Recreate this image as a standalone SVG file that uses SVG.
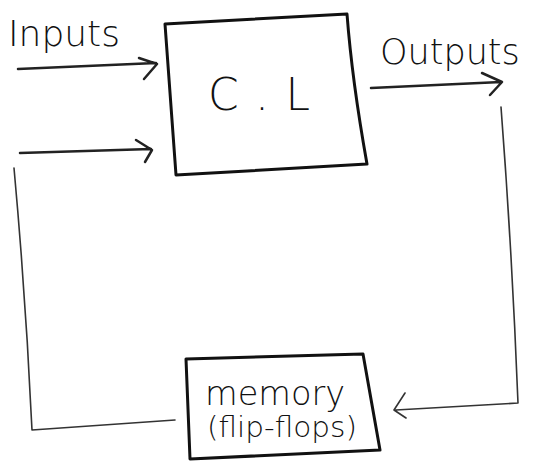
<svg xmlns="http://www.w3.org/2000/svg" width="545" height="463" viewBox="0 0 545 463">
<style>
.box{fill:none;stroke:#111;stroke-width:3;stroke-linejoin:round}
.ln{fill:none;stroke:#222;stroke-width:2.5;stroke-linecap:round;stroke-linejoin:round}
.thin{fill:none;stroke:#333;stroke-width:1.6;stroke-linecap:round;stroke-linejoin:round}
.t{font-family:"DejaVu Sans","Liberation Sans",sans-serif;font-weight:300;fill:#111}
</style>
<rect width="545" height="463" fill="#fff"/>
<g id="cl">
<path class="box" d="M165,24 L347,14 Q352,80 367,164 L176,175 Z"/>
<text class="t" x="208" y="110" font-size="44" textLength="102" lengthAdjust="spacing">C . L</text>
</g>
<g id="memory">
<path class="box" d="M186,359 L363,354 L380,450 L190,459 Z"/>
<text class="t" x="205" y="405" font-size="33" textLength="140" lengthAdjust="spacingAndGlyphs">memory</text>
<text class="t" x="207" y="437" font-size="29" textLength="150" lengthAdjust="spacingAndGlyphs">(flip-flops)</text>
</g>
<g id="labels">
<text class="t" x="8" y="46" font-size="36">Inputs</text>
<text class="t" x="380" y="64" font-size="35">Outputs</text>
</g>
<g id="connectors">
<path class="ln" d="M18,69 L156,63 M139,58 L157,64 L144,79"/>
<path class="ln" d="M20,153 L151,149 M136,140 L152,150 L145,162"/>
<path class="ln" d="M371,88 L501,82 M482,73 L502,82 L490,95"/>
<path class="thin" d="M501,107 Q512,250 518,403 L396,410 M405,393 L394,410 L406,418"/>
<path class="thin" d="M14,168 Q26,300 32,430 L175,420"/>
</g>
</svg>
